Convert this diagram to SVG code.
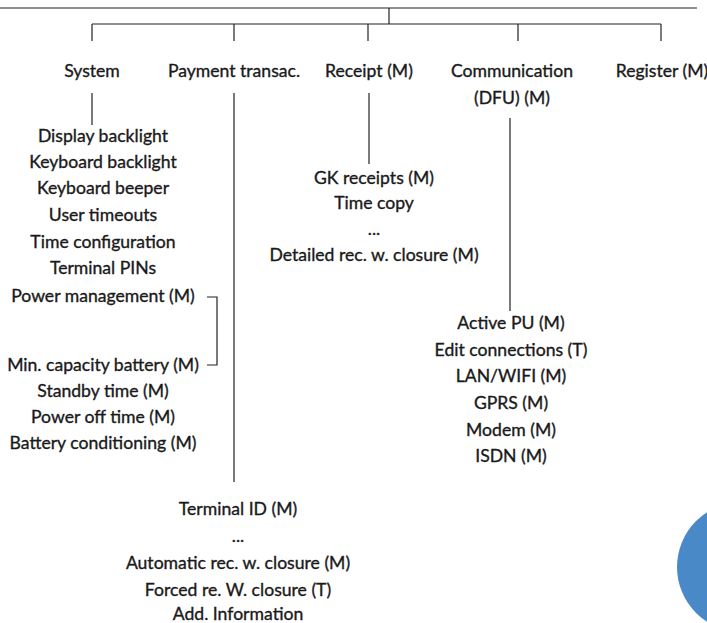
<svg xmlns="http://www.w3.org/2000/svg" width="707" height="623" viewBox="0 0 707 623">
<style>
text{font-family:Lato,"Noto Sans",sans-serif;font-size:17.6px;fill:#1a1a1a;stroke:#1a1a1a;stroke-width:0.35;text-anchor:middle}
.c line,.c polyline{stroke:#222;stroke-width:1.2;fill:none}
</style>
<rect width="707" height="623" fill="#fff"/>
<g class="c" id="connectors">
<line x1="0" y1="8" x2="697" y2="8"/>
<line x1="389" y1="8" x2="389" y2="24"/>
<line x1="92" y1="24" x2="661" y2="24"/>
<line x1="92" y1="24" x2="92" y2="41"/>
<line x1="234" y1="24" x2="234" y2="41"/>
<line x1="368" y1="24" x2="368" y2="41"/>
<line x1="518" y1="24" x2="518" y2="41"/>
<line x1="661" y1="24" x2="661" y2="41"/>
<line x1="92" y1="93" x2="92" y2="125"/>
<line x1="234" y1="93" x2="234" y2="482"/>
<line x1="369" y1="93" x2="369" y2="164"/>
<line x1="510" y1="118" x2="510" y2="311"/>
<polyline points="207,297 217,297 217,365 207,365"/>
</g>
<g id="system"><text x="92" y="77">System</text></g>
<g id="payment"><text x="234" y="77">Payment transac.</text></g>
<g id="receipt"><text x="369" y="77">Receipt (M)</text></g>
<g id="communication"><text x="512" y="77">Communication</text><text x="512" y="104">(DFU) (M)</text></g>
<g id="register"><text x="662" y="77">Register (M)</text></g>
<g id="system-items">
<text x="103" y="142">Display backlight</text>
<text x="103" y="168">Keyboard backlight</text>
<text x="103" y="194">Keyboard beeper</text>
<text x="103" y="221">User timeouts</text>
<text x="103" y="248">Time configuration</text>
<text x="103" y="274">Terminal PINs</text>
<text x="103" y="302">Power management (M)</text>
<text x="103" y="371">Min. capacity battery (M)</text>
<text x="103" y="397">Standby time (M)</text>
<text x="103" y="423">Power off time (M)</text>
<text x="103" y="449">Battery conditioning (M)</text>
</g>
<g id="receipt-items">
<text x="374" y="184">GK receipts (M)</text>
<text x="374" y="209">Time copy</text>
<text x="374" y="235">...</text>
<text x="374" y="261">Detailed rec. w. closure (M)</text>
</g>
<g id="communication-items">
<text x="511" y="329">Active PU (M)</text>
<text x="511" y="356">Edit connections (T)</text>
<text x="511" y="382">LAN/WIFI (M)</text>
<text x="511" y="409">GPRS (M)</text>
<text x="511" y="436">Modem (M)</text>
<text x="511" y="462">ISDN (M)</text>
</g>
<g id="payment-items">
<text x="238" y="515">Terminal ID (M)</text>
<text x="238" y="542">...</text>
<text x="238" y="569">Automatic rec. w. closure (M)</text>
<text x="238" y="596">Forced re. W. closure (T)</text>
<text x="238" y="620">Add. Information</text>
</g>
<circle id="blue-circle" cx="742" cy="567" r="65" fill="#4a89c8"/>
</svg>
